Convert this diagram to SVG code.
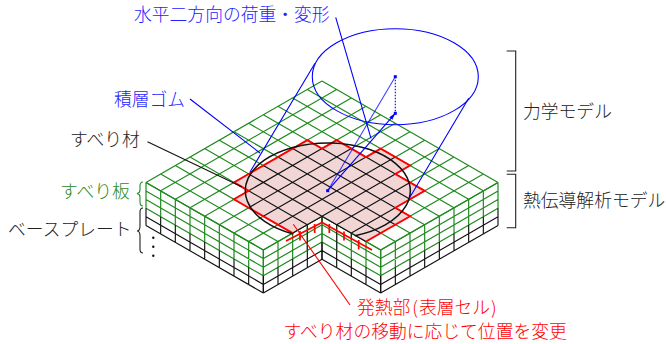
<svg xmlns="http://www.w3.org/2000/svg" width="666" height="344" viewBox="0 0 666 344">
<style>
text{font-family:"Noto Sans CJK JP","Noto Sans",sans-serif;font-size:17.8px;font-weight:300}
.g{fill:none;stroke:#1f8a1f;stroke-width:1.2;vector-effect:non-scaling-stroke}
.k{fill:none;stroke:#111;stroke-width:1.15;vector-effect:non-scaling-stroke}
.r{fill:none;stroke:#f00;stroke-width:1.9;vector-effect:non-scaling-stroke}
.b{fill:none;stroke:#00f;stroke-width:1.1}
.n{fill:none;stroke:#222;stroke-width:1.15}
.tb{fill:#22f}.tg{fill:#2a8a2a}.tk{fill:#222}.tr{fill:#f00}
</style>
<defs>
<path id="gl8" class="g" d="M0 0H8M0 1H8M0 2H8M0 3H8M0 0V3M1 0V3M2 0V3M3 0V3M4 0V3M5 0V3M6 0V3M7 0V3M8 0V3"/>
<path id="kl8" class="k" d="M0 4H8M0 5H8M0 3V5M1 3V5M2 3V5M3 3V5M4 3V5M5 3V5M6 3V5M7 3V5M8 3V5"/>
<path id="gl4" class="g" d="M0 0H4M0 1H4M0 2H4M0 3H4M0 0V3M1 0V3M2 0V3M3 0V3M4 0V3"/>
<path id="kl4" class="k" d="M0 4H4M0 5H4M0 3V5M1 3V5M2 3V5M3 3V5M4 3V5"/>
<marker id="ah" markerUnits="userSpaceOnUse" markerWidth="9" markerHeight="6" refX="7" refY="2" orient="auto"><path d="M0 0L7 2L0 4Z" fill="#00f"/></marker>
</defs>

<g id="plate-top">
<path class="g" transform="matrix(14.667 8.45 -14.667 8.45 322 81)" d="M0 0V12M1 0V12M2 0V12M3 0V12M4 0V12M5 0V12M6 0V12M7 0V12M8 0V12M9 0V8M10 0V8M11 0V8M12 0V8M0 0H12M0 1H12M0 2H12M0 3H12M0 4H12M0 5H12M0 6H12M0 7H12M0 8H12M0 9H8M0 10H8M0 11H8M0 12H8"/>
</g>

<g id="plate-faces">
<g transform="matrix(14.667 8.45 0 8.6 146 182.4)"><use href="#gl8"/><use href="#kl8"/></g>
<g transform="matrix(14.667 -8.45 0 8.6 263.33 250)"><use href="#gl4"/><use href="#kl4"/></g>
<g transform="matrix(14.667 8.45 0 8.6 322 216.2)"><use href="#gl4"/><use href="#kl4"/></g>
<g transform="matrix(14.667 -8.45 0 8.6 380.67 250)"><use href="#gl8"/><use href="#kl8"/></g>
<path class="n" d="M307.3 224.6V250M336.7 224.6V250M322 216.2V223M351.3 233V240"/>
</g>

<g id="slider">
<path fill="#f2d6d6" transform="matrix(14.667 8.45 -14.667 8.45 322 81)" d="M3 4H4V3H6V2H8V3H10V5H11V8H8V10H4V9H3Z"/>
<path class="k" transform="matrix(14.667 8.45 -14.667 8.45 322 81)" d="M4 4V9M5 3V10M6 3V10M7 2V10M8 3V8M9 3V8M10 5V8M6 3H8M4 4H10M3 5H10M3 6H11M3 7H11M3 8H8M4 9H8M8 8H11M8 8V10"/>
<path class="r" transform="matrix(14.667 8.45 -14.667 8.45 322 81)" d="M11 8V5H10V3H8V2H6V3H4V4H3V9H4V10H8"/>
<path fill="none" stroke="#111" stroke-width="1.5" d="M293.3 234A82.5 47.7 0 1 1 355 235.7"/>
</g>

<g id="heat-source" fill="none" stroke="#f00" stroke-width="1.7">
<path d="M286 241L322 222.5L372 250"/>
<path d="M300 231V240.5M314.67 224V233M329.33 224V233M344 231.5V240.5M358.67 240V249.5"/>
</g>

<g id="rubber-bearing">
<ellipse class="b" cx="395.3" cy="76.7" rx="83" ry="48"/>
<path class="b" d="M250 172L315 63.3M468.7 98.3L409.3 198.3"/>
<path class="b" stroke-opacity=".75" d="M327.7 190.7L395.3 76.7"/>
<path class="b" marker-end="url(#ah)" d="M327.7 190.7L395.3 113.3"/>
<path class="b" stroke-dasharray="1.5 1.5" d="M395.3 76.7V113.3"/>
<g fill="#00f"><rect x="326.2" y="189.2" width="3" height="3"/><rect x="393.8" y="75.2" width="3" height="3"/><rect x="393.8" y="111.8" width="3" height="3"/></g>
</g>

<g id="connectors">
<path class="b" d="M335.7 17.3L371 138.3M190 99L260 153"/>
<path fill="none" stroke="#111" stroke-width="1.1" d="M147.5 141.7L241.7 186.7"/>
<path fill="none" stroke="#f00" stroke-width="1.1" d="M350 305L293.3 224.3"/>
</g>

<g id="brackets" fill="none" stroke="#222" stroke-width="1.1">
<path d="M506.7 51H515.7V171H506.7"/>
<path d="M506.7 174.3H515.7V227.7H506.7"/>
<path d="M143 208Q140 208 140 212V226Q140 231 137 231Q140 231 140 236V249Q140 253 143 253"/>
<path stroke="#2a8a2a" d="M143 182Q140 182 140 186V190Q140 193 137 193.5Q140 194 140 197V202Q140 206 143 206"/>
<g fill="#111" stroke="none"><circle cx="153.3" cy="237.7" r="1.2"/><circle cx="153.3" cy="246.7" r="1.2"/><circle cx="153.3" cy="255.7" r="1.2"/></g>
</g>

<g id="labels">
<text class="tb" x="134" y="21">水平二方向の荷重・変形</text>
<text class="tb" x="114" y="106">積層ゴム</text>
<text class="tk" x="70" y="146">すべり材</text>
<text class="tg" x="60" y="198">すべり板</text>
<text class="tk" x="8" y="236">ベースプレート</text>
<text class="tk" x="523" y="118">力学モデル</text>
<text class="tk" x="523" y="207">熱伝導解析モデル</text>
<text class="tr" x="357" y="314">発熱部<tspan dx="2">(</tspan><tspan dx="1">表層セル</tspan><tspan dx="1">)</tspan></text>
<text class="tr" x="283.5" y="338">すべり材の移動に応じて位置を変更</text>
</g>
</svg>
